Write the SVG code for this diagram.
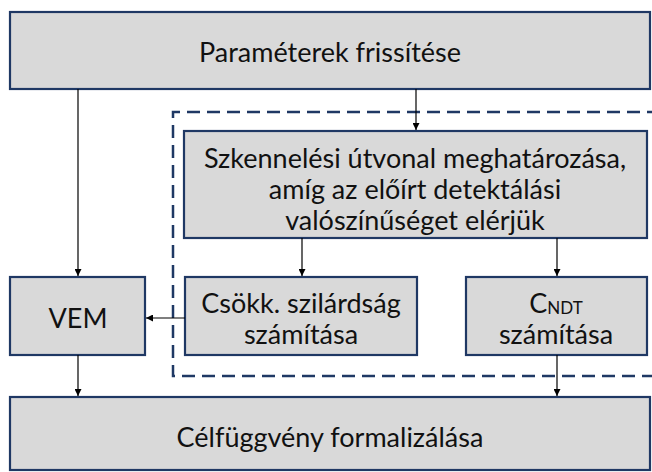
<svg xmlns="http://www.w3.org/2000/svg" width="652" height="472" viewBox="0 0 652 472">
<defs>
<marker id="ah" viewBox="0 0 10 10" refX="10" refY="5" markerWidth="7" markerHeight="7" markerUnits="userSpaceOnUse" orient="auto">
<path d="M0,0 L10,5 L0,10 z" fill="#000"/>
</marker>
<style>
.box{fill:#d9d9d9;stroke:#1f3864;stroke-width:2.2}
.t{font-family:Lato,"Liberation Sans",sans-serif;font-size:27px;fill:#111;text-anchor:middle;dominant-baseline:central}
.s{font-size:17px}
.c{stroke:#000;stroke-width:1.2;fill:none;marker-end:url(#ah)}
.d{fill:none;stroke:#1f3864;stroke-width:2.5;stroke-dasharray:13 7}
</style>
</defs>
<rect width="652" height="472" fill="#fff"/>
<g id="group">
<path class="d" d="M660,112 H173 V376 H660"/>
</g>
<g id="n1"><rect class="box" x="10" y="12" width="640" height="77"/><text class="t" x="330" y="51">Paraméterek frissítése</text></g>
<g id="n2"><rect class="box" x="184" y="131" width="463" height="107"/>
<text class="t" x="415" y="157">Szkennelési útvonal meghatározása,</text>
<text class="t" x="415" y="188">amíg az előírt detektálási</text>
<text class="t" x="415" y="219">valószínűséget elérjük</text></g>
<g id="n3"><rect class="box" x="10" y="277" width="135" height="78"/><text class="t" x="78" y="317">VEM</text></g>
<g id="n4"><rect class="box" x="185" y="277" width="232" height="78"/>
<text class="t" x="301" y="302">Csökk. szilárdság</text>
<text class="t" x="301" y="333">számítása</text></g>
<g id="n5"><rect class="box" x="466" y="277" width="181" height="78"/>
<text class="t" x="556" y="302">C<tspan class="s" dy="5">NDT</tspan></text>
<text class="t" x="556" y="333">számítása</text></g>
<g id="n6"><rect class="box" x="10" y="397" width="640" height="73"/><text class="t" x="330" y="436">Célfüggvény formalizálása</text></g>
<g id="connectors">
<line class="c" x1="78" y1="89" x2="78" y2="276"/>
<line class="c" x1="416" y1="89" x2="416" y2="130"/>
<line class="c" x1="302" y1="238" x2="302" y2="276"/>
<line class="c" x1="557" y1="238" x2="557" y2="276"/>
<line class="c" x1="185" y1="318" x2="146" y2="318"/>
<line class="c" x1="78" y1="355" x2="78" y2="396"/>
<line class="c" x1="557" y1="355" x2="557" y2="396"/>
</g>
</svg>
